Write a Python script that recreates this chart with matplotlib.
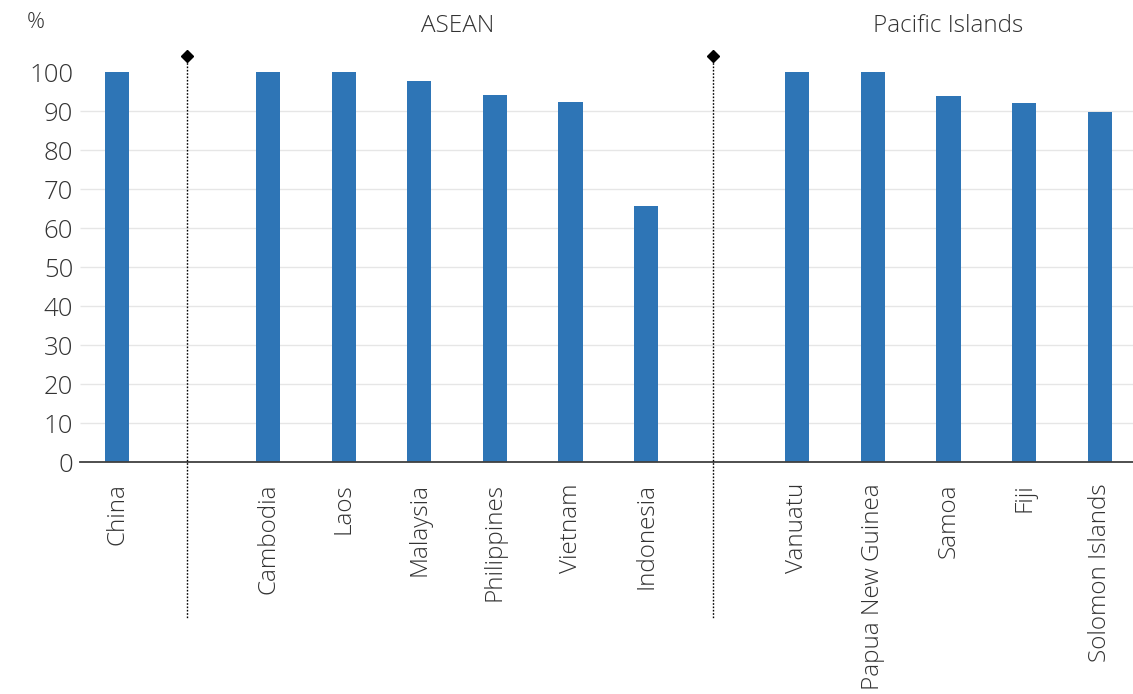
import matplotlib
matplotlib.use("Agg")
import matplotlib.pyplot as plt

# Data: share (%) by country, grouped by region
countries = ["China", "", "Cambodia", "Laos", "Malaysia", "Philippines", "Vietnam",
             "Indonesia", "", "Vanuatu", "Papua New Guinea", "Samoa", "Fiji",
             "Solomon Islands"]
values = [100, None, 100, 100, 97.7, 94.1, 92.5, 65.8, None, 100, 100, 94.0, 92.1, 89.7]
yticks = [0, 10, 20, 30, 40, 50, 60, 70, 80, 90, 100]
group_titles = ["ASEAN", "Pacific Islands"]
group_title_pos = [4.5, 11.0]
divider_pos = [0.93, 7.88]

bar_color = "#2E75B6"
text_color = "#333333"
family = ["Open Sans", "DejaVu Sans"]
weight = "light"

plt.rcParams["font.family"] = family

fig = plt.figure(figsize=(11.33, 6.94), dpi=100)
ax = fig.add_axes([0.0706, 0.3339, 0.9294, 0.5619])

xs = [i for i, v in enumerate(values) if v is not None]
hs = [v for v in values if v is not None]
ax.bar(xs, hs, width=0.32, color=bar_color, zorder=3)

ax.set_xlim(-0.49, 13.44)
ax.set_ylim(0, 100)

# light horizontal gridlines (no line at the top)
ax.hlines([t for t in yticks if 0 < t < 100], -0.49, 13.44, colors="#e6e6e6",
          linewidth=1.0, zorder=1)

ax.set_yticks(yticks)
ax.set_yticklabels([str(t) for t in yticks], fontsize=18.5, color=text_color,
                   fontweight=weight)
ax.set_xticks(range(len(countries)))
ax.set_xticklabels(countries, rotation=90, fontsize=17.5, color=text_color,
                   fontweight=weight, va="top")
ax.tick_params(axis="both", length=0)
ax.tick_params(axis="x", pad=15)
ax.tick_params(axis="y", pad=5)

for s in ["top", "right", "left"]:
    ax.spines[s].set_visible(False)
ax.spines["bottom"].set_color("#404040")
ax.spines["bottom"].set_linewidth(1.3)
ax.spines["bottom"].set_zorder(4)

# group dividers: dotted lines with a diamond on top
for d in divider_pos:
    ax.plot([d, d], [104.3, -40], color="black", linestyle=(0, (1.2, 1.2)),
            linewidth=1.0, clip_on=False, zorder=5)
    ax.plot([d], [104.3], marker="D", color="black", markersize=6,
            clip_on=False, zorder=6)

for t, p in zip(group_titles, group_title_pos):
    ax.text(p, 112, t, ha="center", va="center", fontsize=17.5, color=text_color,
            fontweight=weight, clip_on=False)

fig.text(36 / 1133, 1 - 23 / 694, "%", ha="center", va="center", fontsize=16,
         color=text_color, fontweight=weight)

fig.savefig("out.png", dpi=100, facecolor="white")
